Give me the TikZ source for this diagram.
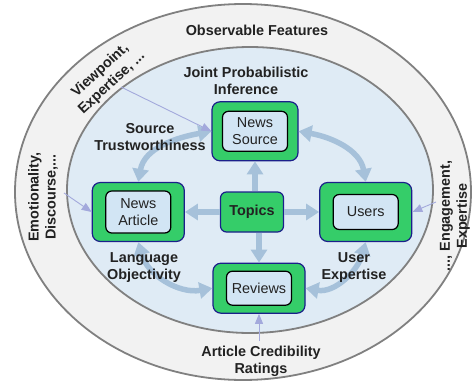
\documentclass[tikz,border=0pt]{standalone}
\usepackage{fontspec}
\setmainfont{Liberation Sans}
\usetikzlibrary{arrows.meta,positioning}

\definecolor{bandgray}{HTML}{F2F2F2}
\definecolor{linegray}{HTML}{808080}
\definecolor{coreblue}{HTML}{DFEBF5}
\definecolor{modgreen}{HTML}{35CD69}
\definecolor{navyline}{HTML}{1B1F8A}
\definecolor{varblue}{HTML}{D2E5F4}
\definecolor{linkblue}{HTML}{A6C1DA}
\definecolor{featblue}{HTML}{A3A9DC}
\definecolor{txtgray}{HTML}{222222}

\begin{document}
\begin{tikzpicture}[x=1pt, y=-1pt, semithick,
    >={Triangle[width=16pt,length=13pt]},
    every node/.style={font=\fontsize{14.4}{17}\selectfont, text=txtgray},
    band/.style={fill=bandgray, draw=linegray, line width=1.8pt},
    core/.style={fill=coreblue, draw=linegray, line width=1.8pt},
    model/.style={rectangle, rounded corners=8pt, fill=modgreen, draw=navyline, line width=1.2pt, minimum width=92pt, minimum height=59pt},
    var/.style={rectangle, rounded corners=6pt, fill=varblue, draw=black, line width=1.2pt, minimum width=65pt, minimum height=40pt, align=center, inner sep=1pt},
    lbl/.style={align=center, font=\bfseries\fontsize{14.4}{17}\selectfont},
    link/.style={draw=linkblue, line width=5.5pt},
    feat/.style={draw=featblue, line width=0.9pt, -{Triangle[width=8pt,length=10pt]}}]
    \useasboundingbox (0,0) rectangle (475,383);

    % observable features and the inference core
    \draw[band] (243,192) ellipse [x radius=228pt, y radius=188pt];
    \draw[core] (250,190) ellipse [x radius=183pt, y radius=143pt];

    \node[model, minimum width=63pt, minimum height=40pt, rounded corners=6pt] (top) at (252,212) {\bfseries Topics};
    \node[model, minimum width=86pt] (src) [above=30pt of top, xshift=3pt]  {};
    \node[model]                     (art) [left=35pt of top]               {};
    \node[model]                     (usr) [right=35pt of top]              {};
    \node[model, minimum height=50pt] (rev) [below=30pt of top, xshift=7pt] {};

    \node[var]                       (srcname) at (src) {News\\Source};
    \node[var, minimum height=42pt]  (artname) at (art) {News\\Article};
    \node[var, minimum height=35pt]  (usrname) at (usr) {Users};
    \node[var, minimum height=34pt]  (revname) at (rev) {Reviews};

    % topics drive everything
    \draw[link, ->] (top.north -| src) -- (src.south);
    \draw[link, ->] (top.west) -- (art.east);
    \draw[link, ->] (top.east) -- (usr.west);
    \draw[link, ->] (top.south -| rev) -- (rev.north);

    \draw[link, <->] (src.west)  to[out=190, in=80]  (art.north);
    \draw[link, <->] (src.east)  to[out=-10, in=100] (usr.north);
    \draw[link, <->] (art.south) to[out=-75, in=190] (rev.west);
    \draw[link, <->] (usr.south) to[out=-105, in=-10] (rev.east);

    % features feeding in
    \coordinate (vp)  at (121,87);
    \coordinate (emo) at (64,193);
    \coordinate (eng) at (436,202);
    \coordinate (acr) at (259,341);
    \draw[feat] (vp)  -- (src.west);
    \draw[feat] (emo) -- (art.west);
    \draw[feat] (eng) -- (usr.east);
    \draw[feat] (acr) -- (rev.south);

    \node[lbl]            (obs)   at (257,30)  {Observable Features};
    \node[lbl]            (joint) at (246,81)  {Joint Probabilistic\\Inference};
    \node[lbl, rotate=43] (vpt)   at (106,77)  {Viewpoint,\\Expertise, ...};
    \node[lbl, rotate=90] (emot)  at (43,197)  {Emotionality,\\Discourse,...};
    \node[lbl, rotate=90] (engt)  at (455,216) {..., Engagement,\\Expertise};
    \node[lbl]            (trust) at (150,137) {Source\\Trustworthiness};
    \node[lbl]            (objt)  at (144,268) {Language\\Objectivity};
    \node[lbl]            (uexp)  at (354,268) {User\\Expertise};
    \node[lbl]            (acrt)  at (261,361) {Article Credibility\\Ratings};
\end{tikzpicture}
\end{document}
